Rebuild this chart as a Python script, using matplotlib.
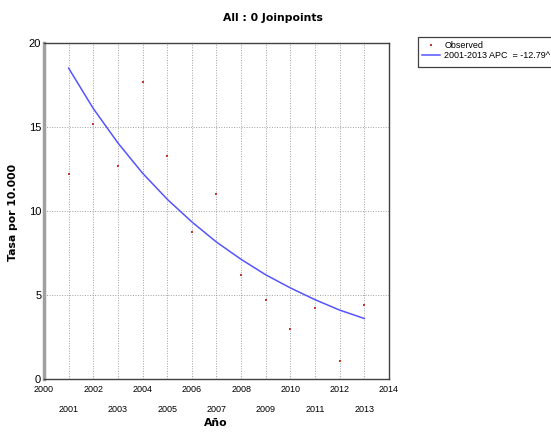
import numpy as np
import matplotlib
matplotlib.use("Agg")
import matplotlib.pyplot as plt
from matplotlib.patches import Rectangle

# observed rates per year
years = [2001, 2002, 2003, 2004, 2005, 2006, 2007, 2008, 2009, 2010, 2011, 2012, 2013]
observed = [12.2, 15.2, 12.7, 17.7, 13.3, 8.75, 11.0, 6.2, 4.7, 2.98, 4.2, 1.08, 4.4]
# fitted joinpoint model
fitted = [18.5, 16.1, 14.05, 12.25, 10.7, 9.35, 8.15, 7.12, 6.2, 5.42, 4.72, 4.1, 3.6]

major_years = [2000, 2002, 2004, 2006, 2008, 2010, 2012, 2014]
minor_years = [2001, 2003, 2005, 2007, 2009, 2011, 2013]
y_ticks = [0, 5, 10, 15, 20]

title = "All : 0 Joinpoints"
xlabel = "Año"
ylabel = "Tasa por 10.000"
label_obs = "Observed"
label_fit = "2001-2013 APC  = -12.79^"

tick_font = "Liberation Sans"
bold_font = "DejaVu Sans"

fig = plt.figure(figsize=(5.51, 4.32), dpi=100)
ax = fig.add_axes([44 / 551, 1 - 379 / 432, (389 - 44) / 551, (379 - 43) / 432])

ax.plot(years, observed, linestyle="none", marker="s", markersize=1.5,
        color="#c0392b", markeredgewidth=0, label=label_obs)
ax.plot(years, fitted, color="#5555ff", linewidth=1.1, label=label_fit)

ax.set_xlim(2000, 2014)
ax.set_ylim(0, 20)
ax.set_xticks(major_years)
ax.set_xticks(minor_years, minor=True)
ax.set_xticklabels([str(y) for y in major_years])
ax.set_xticklabels([str(y) for y in minor_years], minor=True)
ax.set_yticks(y_ticks)

ax.tick_params(axis="x", which="major", length=0, pad=4, labelsize=6.5)
ax.tick_params(axis="x", which="minor", length=0, pad=19, labelsize=6.5)
ax.tick_params(axis="y", length=0, pad=2, labelsize=8)
for lab in ax.get_xticklabels(which="both") + ax.get_yticklabels():
    lab.set_fontfamily(tick_font)

# grid on every year and every 5 units
for yr in range(2001, 2014):
    ax.axvline(yr, color="#a0a0a0", linestyle=(0, (1.0, 1.6)), linewidth=0.7, zorder=0)
for yv in [5, 10, 15]:
    ax.axhline(yv, color="#a0a0a0", linestyle=(0, (1.0, 1.6)), linewidth=0.7, zorder=0)

ax.spines["left"].set_color("#a0a0a0")
ax.spines["left"].set_linewidth(2.5)
for s in ["top", "right", "bottom"]:
    ax.spines[s].set_color("#404040")
    ax.spines[s].set_linewidth(1.0)

fig.text(273 / 551, 1 - 18 / 432, title, ha="center", va="center",
         fontsize=7.8, fontweight="bold", family=bold_font)
fig.text(216 / 551, 1 - 423 / 432, xlabel, ha="center", va="center",
         fontsize=7.8, fontweight="bold", family=bold_font)
fig.text(13 / 551, 1 - 212 / 432, ylabel, ha="center", va="center", rotation=90,
         fontsize=7.8, fontweight="bold", family=bold_font)

# legend box runs off the right edge in the original
fig.patches.append(Rectangle((418 / 551, 1 - 67 / 432), 150 / 551, 30 / 432,
                             transform=fig.transFigure, fill=False,
                             edgecolor="#404040", linewidth=0.9))
leg = fig.legend(loc="upper left", bbox_to_anchor=(421 / 551, 1 - 40 / 432),
                 frameon=False, borderpad=0.1, labelspacing=0.15,
                 handlelength=2.0, handletextpad=0.5, borderaxespad=0,
                 prop={"family": tick_font, "size": 6.5})

fig.savefig("out.png", dpi=100)
